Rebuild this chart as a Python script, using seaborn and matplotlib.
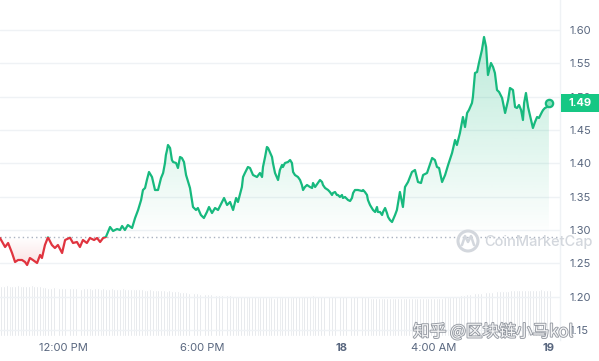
import numpy as np
import pandas as pd
import matplotlib
matplotlib.use("Agg")
import matplotlib.pyplot as plt
import seaborn as sns
from matplotlib.patches import Rectangle, Ellipse
from matplotlib.lines import Line2D
from matplotlib.path import Path
from matplotlib.transforms import blended_transform_factory
import matplotlib.patheffects as pe

# ---------------- data ----------------
hours = [0.00, 0.22, 0.35, 0.52, 0.65, 0.78, 0.95, 1.08, 1.17, 1.29, 1.42, 1.60, 1.73, 1.81, 1.94,
         2.07, 2.24, 2.37, 2.50, 2.68, 2.81, 3.02, 3.15, 3.32, 3.45, 3.58, 3.75, 3.88, 4.06, 4.19,
         4.32, 4.45, 4.57, 4.75, 4.88, 5.05, 5.18, 5.27, 5.39, 5.52, 5.70, 5.83, 5.96, 6.09, 6.17,
         6.26, 6.34, 6.43, 6.56, 6.69, 6.82, 6.95, 7.04, 7.12, 7.16, 7.21, 7.25, 7.34, 7.42, 7.47,
         7.60, 7.68, 7.77, 7.85, 7.94, 8.03, 8.20, 8.33, 8.46, 8.54, 8.67, 8.80, 8.93, 9.02, 9.15,
         9.28, 9.41, 9.58, 9.67, 9.80, 9.93, 10.06, 10.19, 10.27, 10.44, 10.49, 10.57, 10.70, 10.79,
         10.92, 11.09, 11.22, 11.31, 11.35, 11.44, 11.52, 11.57, 11.74, 11.78, 11.87, 11.96, 12.00,
         12.08, 12.17, 12.21, 12.30, 12.43, 12.52, 12.60, 12.65, 12.73, 12.86, 12.95, 13.03, 13.08,
         13.16, 13.25, 13.38, 13.47, 13.51, 13.60, 13.72, 13.81, 13.90, 13.94, 14.03, 14.16, 14.24,
         14.33, 14.37, 14.46, 14.54, 14.59, 14.67, 14.76, 14.80, 14.89, 15.02, 15.11, 15.19, 15.24,
         15.32, 15.45, 15.62, 15.67, 15.75, 15.84, 15.88, 15.97, 16.10, 16.19, 16.27, 16.31, 16.40,
         16.49, 16.53, 16.62, 16.70, 16.75, 16.83, 16.92, 17.05, 17.13, 17.26, 17.39, 17.48, 17.61,
         17.78, 17.91, 18.04, 18.17, 18.26, 18.43, 18.65, 18.77, 18.86, 18.95, 19.08, 19.21, 19.34,
         19.51, 19.64, 19.72, 19.85, 19.98, 20.07, 20.16, 20.24, 20.37, 20.41, 20.50, 20.59, 20.67,
         20.80, 20.89, 20.98, 21.06, 21.19, 21.28, 21.36, 21.45, 21.54, 21.67, 21.80, 21.93, 22.01,
         22.14, 22.23, 22.31, 22.40, 22.49, 22.57, 22.62, 22.70, 22.79, 22.92, 23.00, 23.09, 23.18,
         23.26, 23.39, 23.44, 23.52, 23.61, 23.69]

price = [1.2880, 1.2745, 1.2805, 1.2655, 1.2520, 1.2550, 1.2550, 1.2520, 1.2475, 1.2580, 1.2550,
         1.2505, 1.2625, 1.2580, 1.2775, 1.2890, 1.2775, 1.2730, 1.2775, 1.2655, 1.2850, 1.2885,
         1.2805, 1.2820, 1.2745, 1.2850, 1.2805, 1.2880, 1.2850, 1.2880, 1.2820, 1.2880, 1.2895,
         1.3045, 1.2985, 1.3015, 1.3000, 1.3060, 1.3000, 1.3075, 1.3030, 1.3180, 1.3300, 1.3450,
         1.3600, 1.3630, 1.3750, 1.3870, 1.3795, 1.3600, 1.3600, 1.3780, 1.3855, 1.4005, 1.4125,
         1.4200, 1.4275, 1.4230, 1.4050, 1.4020, 1.4005, 1.3930, 1.4095, 1.4080, 1.4020, 1.3825,
         1.3630, 1.3345, 1.3300, 1.3330, 1.3225, 1.3180, 1.3270, 1.3345, 1.3255, 1.3330, 1.3300,
         1.3420, 1.3480, 1.3375, 1.3420, 1.3300, 1.3480, 1.3420, 1.3645, 1.3795, 1.3855, 1.3945,
         1.3930, 1.3825, 1.3795, 1.3855, 1.3795, 1.3945, 1.4095, 1.4245, 1.4230, 1.4095, 1.4005,
         1.3855, 1.3780, 1.3750, 1.3900, 1.3975, 1.3945, 1.4005, 1.4020, 1.4050, 1.4005, 1.3870,
         1.3825, 1.3795, 1.3750, 1.3675, 1.3600, 1.3645, 1.3675, 1.3645, 1.3630, 1.3705, 1.3645,
         1.3705, 1.3750, 1.3720, 1.3675, 1.3630, 1.3600, 1.3570, 1.3525, 1.3555, 1.3570, 1.3525,
         1.3525, 1.3495, 1.3525, 1.3480, 1.3495, 1.3450, 1.3435, 1.3480, 1.3555, 1.3600, 1.3600,
         1.3585, 1.3600, 1.3570, 1.3525, 1.3450, 1.3375, 1.3300, 1.3270, 1.3345, 1.3270, 1.3270,
         1.3225, 1.3270, 1.3330, 1.3255, 1.3195, 1.3150, 1.3120, 1.3225, 1.3300, 1.3570, 1.3345,
         1.3645, 1.3720, 1.3870, 1.3900, 1.3720, 1.3705, 1.3825, 1.3855, 1.4080, 1.4050, 1.3945,
         1.3930, 1.3720, 1.3825, 1.3975, 1.4155, 1.4350, 1.4275, 1.4455, 1.4695, 1.4545, 1.4755,
         1.4800, 1.4905, 1.4995, 1.5355, 1.5370, 1.5505, 1.5700, 1.5895, 1.5745, 1.5325, 1.5505,
         1.5445, 1.5355, 1.5100, 1.5070, 1.4980, 1.4755, 1.4950, 1.5130, 1.5100, 1.4845, 1.4830,
         1.4875, 1.4800, 1.4650, 1.4905, 1.5055, 1.4845, 1.4650, 1.4530, 1.4620, 1.4695, 1.4680,
         1.4770, 1.4800, 1.4830, 1.4845, 1.4905]

volume = [50, 50, 51, 50, 50, 50, 51, 50, 50, 50, 50, 51, 50, 50, 50, 49,
          49, 48, 48, 49, 48, 48, 48, 48, 47, 48, 48, 48, 48, 47, 48, 48, 48, 47, 48, 48,
          47, 48, 47, 47, 48, 47, 47, 47, 48, 47, 47, 47, 47, 47, 47,
          47, 46, 46, 47, 46, 46, 46, 46, 46, 45, 46, 45, 45, 45, 44, 44,
          44, 43, 43, 43, 43, 42, 43, 42, 42, 42, 42,
          41, 41, 41, 41, 41, 41, 40, 40, 40, 40, 40, 40, 40, 39, 40, 39, 39,
          39, 39, 39, 39, 38, 39, 39, 39, 39, 39, 39, 40, 40, 40,
          40, 40, 40, 40, 41, 40, 40, 40, 40, 40, 40, 40, 40, 40, 40, 40, 40, 40, 39, 40,
          40, 40, 40, 39, 39,
          38, 38, 38, 38, 38, 38, 38, 38, 38, 38, 38, 38, 38, 38, 38, 38, 38, 38, 38, 38,
          38, 38, 38, 38, 38, 38, 38, 39, 39,
          39, 40, 40, 40, 41, 41, 42, 42,
          43, 43, 43, 43, 44, 44, 44,
          44, 45, 45, 45, 45, 45, 45, 46, 46, 46, 46, 46, 46, 46, 46, 46, 46, 46, 47, 46,
          46, 46]

baseline_price = 1.2895
last_price_label = "1.49"
y_ticks = [1.15, 1.20, 1.25, 1.30, 1.35, 1.40, 1.45, 1.50, 1.55, 1.60]
x_tick_hours = [2.72, 8.72, 14.72, 18.72, 23.69]
x_tick_labels = ["12:00 PM", "6:00 PM", "18", "4:00 AM", "19"]

# ---------------- style ----------------
sns.set_theme(style="white")
plt.rcParams['font.family'] = ['Inter', 'Noto Sans CJK SC', 'DejaVu Sans']

GREEN = "#17b97e"
RED = "#e0343f"
GRAY_TXT = "#58667e"
GRID = "#eff2f5"

W, H = 599, 361
fig = plt.figure(figsize=(W / 100, H / 100), dpi=100)
fig.patch.set_facecolor("white")

# ---------------- volume ----------------
vax = fig.add_axes([0, (H - 336) / H, 551 / W, 51 / H])
vdf = pd.DataFrame({"i": np.arange(len(volume)), "v": volume})
sns.barplot(data=vdf, x="i", y="v", ax=vax, color="#dadee3", saturation=1, width=0.7)
vax.set_xlim(-0.5, len(volume) - 0.5)
vax.set_ylim(0, 51)
vax.axis("off")

# ---------------- price ----------------
ax = fig.add_axes([0, (H - 340) / H, 560 / W, 340 / H])
ax.set_facecolor("none")
ax.set_xlim(0, 560 / 23.17)
ax.set_ylim(1.645 - 0.0015 * 340, 1.645)

ax.set_yticks(y_ticks)
ax.set_yticklabels([f"{t:.2f}" for t in y_ticks])
ax.grid(axis="y", color=GRID, lw=1)
ax.grid(axis="x", visible=False)
for s in ["left", "top", "bottom"]:
    ax.spines[s].set_visible(False)
ax.spines["right"].set_color(GRID)
ax.spines["right"].set_linewidth(1)
ax.yaxis.tick_right()
ax.tick_params(axis="y", length=0, pad=6.5, labelsize=8, labelcolor=GRAY_TXT)
ax.set_xticks(x_tick_hours)
ax.set_xticklabels(x_tick_labels)
ax.tick_params(axis="x", length=0, pad=2, labelsize=8, labelcolor=GRAY_TXT)
for lab in ax.get_xticklabels():
    if lab.get_text() in ("18", "19"):
        lab.set_fontweight("bold")

x = np.array(hours)
y = np.array(price)

# gradient fills
pg = ax.fill_between(x, y, baseline_price, where=y >= baseline_price, interpolate=True,
                     facecolor="none", edgecolor="none")
pr = ax.fill_between(x, y, baseline_price, where=y <= baseline_price, interpolate=True,
                     facecolor="none", edgecolor="none")
gpath = Path.make_compound_path(*pg.get_paths())
rpath = Path.make_compound_path(*pr.get_paths())

n = 256
img_g = np.zeros((n, 1, 4))
img_g[..., :3] = matplotlib.colors.to_rgb(GREEN)
img_g[:, 0, 3] = np.linspace(0.0, 0.30, n)
im_g = ax.imshow(img_g, extent=[0, x[-1], baseline_price, 1.60], origin="lower",
                 aspect="auto", zorder=1, interpolation="bilinear")
im_g.set_clip_path(gpath, transform=ax.transData)

img_r = np.zeros((n, 1, 4))
img_r[..., :3] = matplotlib.colors.to_rgb(RED)
img_r[:, 0, 3] = np.linspace(0.16, 0.0, n)
im_r = ax.imshow(img_r, extent=[0, x[-1], 1.245, baseline_price], origin="lower",
                 aspect="auto", zorder=1, interpolation="bilinear")
im_r.set_clip_path(rpath, transform=ax.transData)
ax.set_xlim(0, 560 / 23.17)
ax.set_ylim(1.645 - 0.0015 * 340, 1.645)

# baseline dotted
ax.axhline(baseline_price, color="#aab2c0", lw=1, ls=(0, (1, 2.2)), zorder=2)

# lines
df = pd.DataFrame({"hours": hours, "price": price})
sns.lineplot(data=df, x="hours", y="price", ax=ax, color=GREEN, lw=1.6,
             sort=False, estimator=None, zorder=3)
lg = ax.lines[-1]
sns.lineplot(data=df, x="hours", y="price", ax=ax, color=RED, lw=1.6,
             sort=False, estimator=None, zorder=3)
lr = ax.lines[-1]
xmin, xmax = ax.get_xlim()
clip_up = Rectangle((xmin, baseline_price), xmax - xmin, 5, transform=ax.transData)
clip_dn = Rectangle((xmin, baseline_price - 5), xmax - xmin, 5, transform=ax.transData)
lg.set_clip_path(clip_up)
lr.set_clip_path(clip_dn)
ax.set_xlabel("")
ax.set_ylabel("")

# end dot
sns.scatterplot(x=[hours[-1]], y=[price[-1]], ax=ax, s=28, color="#8be3bd",
                edgecolor=GREEN, linewidth=1.6, zorder=4)

# last price tag
trans = blended_transform_factory(fig.transFigure, ax.transData)
box_h = 18 * 0.0015
ax.add_patch(Rectangle((561 / W, price[-1] - box_h / 2), 38 / W, box_h, transform=trans,
                       facecolor="#16c784", edgecolor="none", clip_on=False, zorder=5))
ax.text(580 / W, price[-1], last_price_label, transform=trans, ha="center", va="center",
        color="white", fontsize=8, fontweight="bold", clip_on=False, zorder=6)

# CoinMarketCap watermark
WM = "#d3d7dd"
fig.add_artist(Ellipse((468 / W, 1 - 241 / H), 20 / W, 20 / H, facecolor="none",
                       edgecolor=WM, lw=2.2, transform=fig.transFigure))
mx = [462, 465, 468, 471, 474]
my = [245, 236, 242, 236, 245]
fig.add_artist(Line2D([v / W for v in mx], [1 - v / H for v in my], color=WM, lw=1.8,
                      transform=fig.transFigure))
fig.text(484 / W, 1 - 242 / H, "CoinMarketCap", fontsize=10.5, color=WM, ha="left",
         va="center", fontweight="medium")

# Zhihu watermark
fig.text(413 / W, 1 - 332 / H, "知乎 @区块链小马kol", fontsize=12, color="white",
         ha="left", va="center", alpha=0.9,
         family=["Noto Sans CJK SC", "DejaVu Sans"],
         path_effects=[pe.withStroke(linewidth=1.3, foreground="#8a8f98")])

fig.savefig("out.png", dpi=100, facecolor="white")
